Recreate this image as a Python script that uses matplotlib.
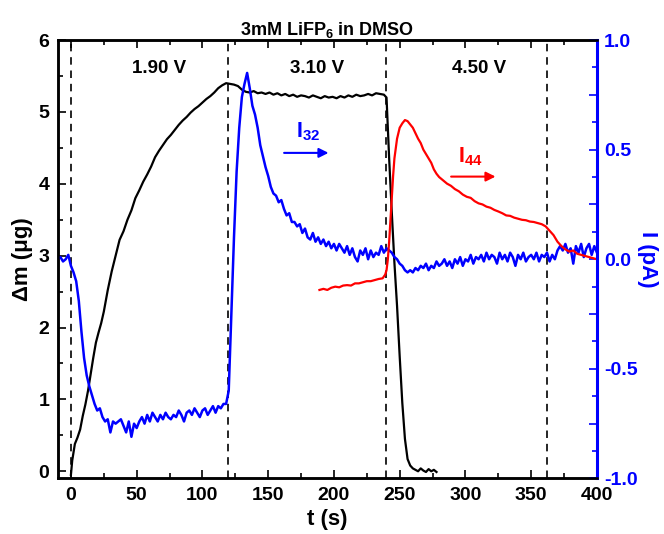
import numpy as np
import matplotlib
matplotlib.use('Agg')
import matplotlib.pyplot as plt
from matplotlib.ticker import MultipleLocator, FuncFormatter

plt.rcParams['font.family'] = ['Liberation Sans', 'DejaVu Sans']
plt.rcParams['font.weight'] = 'bold'
plt.rcParams['mathtext.fontset'] = 'custom'
plt.rcParams['mathtext.rm'] = 'Liberation Sans:bold'
plt.rcParams['mathtext.it'] = 'Liberation Sans:bold'
plt.rcParams['mathtext.bf'] = 'Liberation Sans:bold'
plt.rcParams['mathtext.default'] = 'bf'

# mass change (left axis)
t_mass = [0, 1, 3, 5, 7, 9, 11, 13, 15, 17, 19, 21, 23, 25, 28, 31, 34, 37, 40, 43,
          46, 49, 52, 55, 58, 61, 64, 67, 70, 73, 76, 79, 82, 85, 88, 91, 94, 97, 100, 103,
          106, 109, 112, 115, 118, 121, 124, 127, 130, 133,
          136, 139, 142, 145, 148, 151, 154, 157, 160, 163, 166, 169, 172, 175, 178, 181, 184,
          187, 190, 193, 196, 199, 202, 205, 208, 211, 214, 217, 220, 223, 226, 229, 232, 235,
          238, 240, 242, 244, 246, 248, 250, 252, 254, 256, 258, 260, 262, 264, 266, 268, 270,
          272, 274, 276, 278]
mass = [-0.05, 0.15, 0.38, 0.47, 0.58, 0.77, 0.93, 1.12, 1.35, 1.58, 1.79, 1.93, 2.06, 2.22,
        2.52, 2.78, 3.00, 3.22, 3.34, 3.50, 3.63, 3.80, 3.91, 4.03, 4.13, 4.24, 4.37, 4.46,
        4.54, 4.62, 4.68, 4.75, 4.82, 4.88, 4.93, 4.99, 5.04, 5.08, 5.13, 5.18, 5.22, 5.27,
        5.33, 5.37, 5.40, 5.39, 5.38, 5.36, 5.31, 5.28,
        5.27, 5.29, 5.26, 5.27, 5.25, 5.27, 5.24, 5.26, 5.23, 5.25, 5.22, 5.24, 5.21, 5.23,
        5.22, 5.20, 5.23, 5.21, 5.19, 5.22, 5.20, 5.21, 5.19, 5.22, 5.20, 5.23, 5.21, 5.24,
        5.22, 5.23, 5.25, 5.23, 5.26, 5.25,
        5.24, 5.20, 4.35, 3.60, 2.90, 2.30, 1.60, 0.95, 0.45, 0.17, 0.08, 0.04, 0.02, 0.00,
        0.04, 0.01, -0.01, 0.03, 0.00, 0.02, -0.01]

# I32 ion current (right axis), one value every 2 s starting at t = -10
i32 = [0.00, 0.01, -0.01, 0.00, 0.02,
       -0.03, -0.06, -0.10, -0.19, -0.33, -0.45, -0.53, -0.58, -0.62, -0.66,
       -0.69, -0.68, -0.72, -0.74, -0.73, -0.79, -0.74, -0.75, -0.74, -0.73,
       -0.76, -0.79, -0.74, -0.81, -0.75, -0.77, -0.74, -0.72, -0.75, -0.71,
       -0.74, -0.70, -0.72, -0.74, -0.71, -0.73, -0.70, -0.72, -0.73, -0.71,
       -0.72, -0.69, -0.71, -0.74, -0.70, -0.69, -0.71, -0.68, -0.70, -0.72,
       -0.69, -0.68, -0.71, -0.69, -0.67, -0.70, -0.67, -0.68, -0.66, -0.66,
       -0.60, -0.25, 0.10, 0.40, 0.60, 0.74, 0.80, 0.85, 0.78, 0.70,
       0.66, 0.60, 0.52, 0.47, 0.42, 0.38, 0.33, 0.30, 0.29, 0.26,
       0.27, 0.23, 0.20, 0.21, 0.17, 0.17, 0.15, 0.16, 0.12, 0.14,
       0.10, 0.09, 0.12, 0.08, 0.10, 0.07, 0.09, 0.06, 0.08, 0.05,
       0.07, 0.04, 0.07, 0.05, 0.03, 0.06, 0.02, 0.05, 0.01, -0.01,
       0.04, 0.02, 0.05, 0.00, 0.04, 0.01, 0.03, 0.02, 0.06, 0.03,
       0.05, 0.04, 0.03, 0.01, 0.00, -0.02, -0.03, -0.05, -0.06, -0.05,
       -0.06, -0.04, -0.05, -0.03, -0.04, -0.02, -0.05, -0.03, -0.04, -0.01,
       -0.03, -0.02, 0.00, -0.03, -0.01, -0.04, 0.00, -0.02, 0.01, -0.03,
       0.00, -0.01, 0.02, -0.02, 0.01, 0.00, 0.02, -0.01, 0.03, 0.00,
       0.02, 0.01, -0.02, 0.03, 0.00, 0.02, -0.01, 0.03, 0.01, -0.03,
       0.02, 0.00, 0.03, -0.01, 0.01, 0.02, 0.00, 0.03, -0.01, 0.02,
       0.01, 0.03, -0.01, 0.02, 0.00, 0.04, 0.06, 0.04, 0.07, 0.03,
       0.05, -0.02, 0.06, 0.03, 0.07, 0.01, 0.05, 0.07, 0.02, 0.06, 0.03]
t_i32 = np.arange(len(i32)) * 2 - 10

# I44 ion current (right axis)
t_i44 = [189, 192, 195, 198, 201, 204, 207, 210, 213, 216, 219, 222, 225, 228, 231, 234, 237,
         239, 240, 241, 242, 243, 244, 245, 246, 248, 250, 252, 254, 256, 258, 260, 262, 264,
         266, 268, 270, 272, 274, 276, 278, 280, 283, 286, 289, 292, 295, 298, 301, 304, 307,
         310, 313, 316, 319, 322, 325, 328, 331, 334, 337, 340, 343, 346, 349, 352, 355, 358,
         361, 364, 367, 370, 373, 376, 379, 382, 385, 388, 391, 394, 397, 400]
i44 = [-0.140, -0.135, -0.140, -0.130, -0.125, -0.128, -0.120, -0.118, -0.120, -0.110,
       -0.110, -0.105, -0.100, -0.100, -0.095, -0.090, -0.087,
       -0.070, -0.050, 0.000, 0.080, 0.180, 0.280, 0.380, 0.460, 0.550, 0.600, 0.620, 0.635,
       0.630, 0.615, 0.600, 0.575, 0.550, 0.530, 0.500, 0.480, 0.460, 0.440, 0.410, 0.390,
       0.375, 0.360, 0.345, 0.335, 0.320, 0.310, 0.295, 0.285, 0.280, 0.265, 0.255, 0.250,
       0.240, 0.235, 0.225, 0.218, 0.210, 0.200, 0.198, 0.190, 0.185, 0.180, 0.178, 0.172,
       0.170, 0.165, 0.160, 0.150, 0.130, 0.110, 0.080, 0.060, 0.045, 0.035, 0.040, 0.025,
       0.020, 0.015, 0.010, 0.005, 0.000]

# potential steps
step_times = [0, 119.5, 239.5, 362]
step_labels = ['1.90 V', '3.10 V', '4.50 V']
step_label_x = [67, 187, 310]

fig = plt.figure(figsize=(6.64, 5.34), dpi=100)
ax = fig.add_axes([0.087, 0.104, 0.812, 0.821])
ax2 = ax.twinx()

for ts in step_times:
    ax.axvline(ts, color='black', ls=(0, (4.5, 3.5)), lw=1.2)

ax.plot(t_mass, mass, color='black', lw=1.6)
ax2.plot(t_i32, i32, color='#0000ff', lw=1.8)
ax2.plot(t_i44, i44, color='#ff0000', lw=1.6)

for lx, lab in zip(step_label_x, step_labels):
    ax.text(lx, 5.6, lab, ha='center', va='center', fontsize=13.5, fontweight='bold')

# current labels with arrows
ax.annotate('', xy=(198, 4.43), xytext=(160, 4.43),
            arrowprops=dict(arrowstyle='-|>', color='#0000ff', lw=1.5, mutation_scale=14))
ax.text(171, 4.72, r'I$_{32}$', color='#0000ff', fontsize=15.5, ha='left', va='center')
ax.annotate('', xy=(325, 4.10), xytext=(287, 4.10),
            arrowprops=dict(arrowstyle='-|>', color='#ff0000', lw=1.5, mutation_scale=14))
ax.text(294, 4.38, r'I$_{44}$', color='#ff0000', fontsize=15.5, ha='left', va='center')

ax.set_xlim(-10, 400)
ax.set_ylim(-0.1, 6)
ax2.set_ylim(-1, 1)

ax.xaxis.set_major_locator(MultipleLocator(50))
ax.xaxis.set_minor_locator(MultipleLocator(25))
ax.yaxis.set_major_locator(MultipleLocator(1))
ax.yaxis.set_minor_locator(MultipleLocator(0.5))
ax2.yaxis.set_major_locator(MultipleLocator(0.25))
ax2.yaxis.set_minor_locator(MultipleLocator(0.125))
ax2.yaxis.set_major_formatter(FuncFormatter(
    lambda v, p: '%.1f' % v if abs(v * 2 - round(v * 2)) < 1e-6 else ''))

ax.tick_params(axis='both', which='both', direction='in', top=True, right=False,
               labelsize=14, width=1.2)
ax.tick_params(which='major', length=6)
ax.tick_params(which='minor', length=3.5)
ax.tick_params(axis='x', pad=6)
ax.tick_params(axis='y', pad=6)
ax2.tick_params(axis='y', which='both', direction='in', colors='#0000ff',
                labelsize=14, width=1.2, pad=5)
ax2.tick_params(which='major', length=6)
ax2.tick_params(which='minor', length=3.5)

for sp in ['left', 'bottom', 'top']:
    ax.spines[sp].set_linewidth(1.8)
    ax2.spines[sp].set_linewidth(1.8)
ax2.spines['right'].set_color('#0000ff')
ax2.spines['right'].set_linewidth(2.2)
ax.spines['right'].set_visible(False)

ax.set_xlabel('t (s)', fontsize=16, fontweight='bold', labelpad=4)
ax.set_ylabel('Δm (μg)', fontsize=16, fontweight='bold', labelpad=4)
ax2.set_ylabel('I (pA)', fontsize=16, fontweight='bold', color='#0000ff',
               rotation=270, va='center', ha='center')
ax2.yaxis.set_label_coords(1.093, 0.5)
ax.set_title(r'3mM LiFP$_6$ in DMSO', fontsize=13, fontweight='bold', pad=3)

fig.savefig('out.png', dpi=100)
